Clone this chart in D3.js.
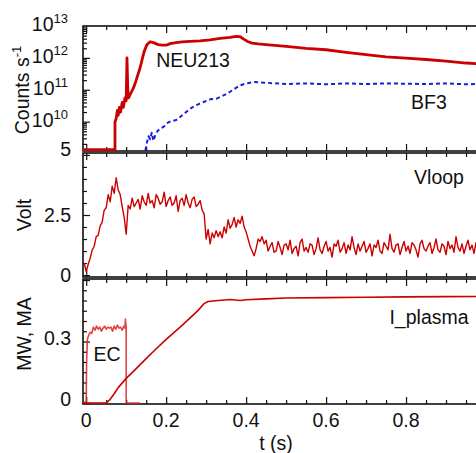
<!DOCTYPE html>
<html>
<head>
<meta charset="utf-8">
<script src="https://cdn.jsdelivr.net/npm/d3@7"></script>
<style>
  body { margin: 0; background: #fff; }
  text { font-family: "Liberation Sans", Arial, Helvetica, sans-serif; fill: #111; }
</style>
</head>
<body>
<div id="chart"></div>
<script>
// ---- data ----
const tNeu = [-0.008, 0.072, 0.072, 0.075, 0.078, 0.08, 0.083, 0.086, 0.09, 0.093, 0.097, 0.1, 0.102, 0.104, 0.106, 0.11,
  0.118, 0.125, 0.135, 0.145, 0.152, 0.16, 0.17, 0.18, 0.19, 0.2, 0.21, 0.225, 0.24, 0.26, 0.285, 0.31, 0.335, 0.36,
  0.375, 0.385, 0.395, 0.405, 0.415, 0.43, 0.45, 0.5, 0.55, 0.6, 0.65, 0.7, 0.75, 0.8, 0.85, 0.9, 0.95, 1.0];
const neu213 = [1.32e9, 1.32e9, 1.0e10, 1.26e10, 2.24e10, 1.58e10, 2.8e10, 2.0e10, 4.0e10, 2.8e10, 5.6e10, 4.5e10, 1.0e12, 1.0e11, 5.6e10, 7.1e10,
  1.12e11, 2.0e11, 5.0e11, 1.6e12, 2.6e12, 3.2e12, 2.95e12, 2.6e12, 2.5e12, 2.5e12, 2.8e12, 3.0e12, 3.2e12, 3.3e12, 3.4e12, 3.7e12, 4.1e12, 4.4e12,
  4.7e12, 4.6e12, 3.8e12, 3.2e12, 2.9e12, 2.75e12, 2.6e12, 2.3e12, 2.0e12, 1.8e12, 1.5e12, 1.26e12, 1.07e12, 9.8e11, 8.9e11, 7.9e11, 6.9e11, 6.3e11];

const tBf3 = [0.148, 0.152, 0.156, 0.16, 0.164, 0.168, 0.172, 0.178, 0.185, 0.195, 0.205, 0.215, 0.225, 0.235, 0.25, 0.265,
  0.28, 0.295, 0.31, 0.325, 0.34, 0.355, 0.37, 0.385, 0.4, 0.42, 0.45, 0.5, 0.55, 0.6, 0.65, 0.7, 0.75, 0.8, 0.85, 0.9, 0.95, 1.0];
const bf3 = [1.26e9, 2.24e9, 3.5e9, 2.8e9, 4.5e9, 2.5e9, 3.5e9, 5.0e9, 6.0e9, 7.1e9, 9.5e9, 1.05e10, 1.12e10, 1.4e10, 2.0e10, 2.8e10,
  3.5e10, 4.2e10, 5.0e10, 5.2e10, 6.3e10, 7.9e10, 1.05e11, 1.38e11, 1.58e11, 1.74e11, 1.66e11, 1.51e11, 1.58e11, 1.48e11, 1.58e11, 1.51e11, 1.58e11, 1.55e11, 1.51e11, 1.58e11, 1.48e11, 1.55e11];

// Vloop sampled every 5 ms from t = -5 ms
const vloopT0 = -0.005, vloopDt = 0.005;
const vloop = [
  // ramp up, -0.005 .. 0.11
  0.5, 0.15, 0.45, 0.7, 1.05, 1.2, 1.6, 1.65, 2.05, 2.2, 2.7, 2.8, 3.35, 3.05, 3.7, 3.4, 4.05, 3.55, 3.35, 2.85, 2.4, 1.7, 2.9, 2.75,
  // plateau, 0.115 .. 0.295
  3.2, 2.85, 3.0, 3.15, 2.75, 3.3, 3.05, 2.9, 3.4, 3.0, 3.1, 2.8, 3.35, 3.2, 2.95, 3.05, 3.45, 2.85, 3.1, 3.25,
  2.9, 3.0, 3.3, 2.65, 3.1, 3.2, 2.9, 3.35, 3.0, 2.8, 3.15, 3.25, 2.85, 2.95, 3.1, 2.7, 2.55,
  // drop and bump, 0.3 .. 0.455
  1.5, 1.9, 1.3, 1.75, 1.55, 1.85, 1.6, 1.8, 1.55, 2.0, 1.75, 2.3, 1.95, 2.1, 2.4, 2.0, 2.3, 2.15, 2.45, 2.0,
  1.8, 1.5, 1.2, 1.0, 0.8, 1.1, 1.5, 1.4, 1.6, 1.3, 1.45, 1.0,
  // steady, 0.46 ..
  1.2, 1.35, 0.95, 1.0, 1.4, 1.15, 0.85, 1.25, 1.3, 1.05, 1.45, 0.9, 1.1, 1.2, 0.8, 1.35, 1.5, 1.0, 1.15, 0.95,
  1.3, 1.25, 0.85, 1.1, 1.55, 1.05, 0.9, 1.2, 1.4, 1.0, 1.15, 0.75, 1.3, 1.2, 1.45, 0.95, 1.1, 1.35, 0.9, 1.25,
  1.05, 1.6, 1.15, 0.85, 1.3, 1.0, 1.2, 1.4, 0.95, 1.1, 1.3, 0.8, 1.25, 1.15, 1.45, 1.0, 0.9, 1.35, 1.2, 1.05,
  1.7, 1.1, 0.95, 1.25, 1.3, 0.85, 1.15, 1.4, 1.0, 1.2, 0.9, 1.35, 1.25, 1.05, 0.75, 1.3, 1.45, 1.1, 1.0, 1.2,
  1.35, 0.9, 1.15, 1.5, 1.05, 0.95, 1.3, 1.2, 0.85, 1.4, 1.1, 1.25, 0.95, 1.6, 1.15, 1.0, 1.3, 0.9, 1.2, 1.45,
  1.05, 1.25, 0.9, 1.35, 1.1, 1.2];

const tEc = [-0.008, 0, 0.001, 0.003, 0.006, 0.01, 0.014, 0.018, 0.022, 0.026, 0.03, 0.034, 0.038, 0.042, 0.046, 0.05,
  0.054, 0.058, 0.062, 0.066, 0.07, 0.074, 0.078, 0.082, 0.086, 0.09, 0.094, 0.097, 0.098, 0.1, 0.1, 0.135];
const ec = [0.005, 0.005, 0.2, 0.31, 0.33, 0.345, 0.34, 0.37, 0.355, 0.375, 0.36, 0.37, 0.35, 0.365, 0.375, 0.36,
  0.37, 0.365, 0.37, 0.35, 0.375, 0.36, 0.38, 0.365, 0.37, 0.355, 0.375, 0.365, 0.41, 0.37, 0.0, 0.0];

const tIp = [-0.008, 0.05, 0.06, 0.07, 0.08, 0.1, 0.12, 0.148, 0.17, 0.2, 0.235, 0.26, 0.28, 0.295, 0.305, 0.33, 0.36,
  0.385, 0.4, 0.45, 0.5, 0.6, 0.7, 0.8, 0.9, 1.0];
const iPlasma = [0, 0, 0.018, 0.045, 0.075, 0.12, 0.158, 0.213, 0.255, 0.31, 0.37, 0.415, 0.452, 0.485, 0.495, 0.5, 0.505,
  0.5, 0.504, 0.508, 0.512, 0.514, 0.516, 0.518, 0.519, 0.52];

const xTickLabels = [0, 0.2, 0.4, 0.6, 0.8];
const logTickLabels = [13, 12, 11, 10];
const voltTickLabels = [0, 2.5, 5];
const maTickLabels = [0, 0.3];

// ---- layout ----
const width = 476, height = 453;
const red = '#cc0000', blue = '#1d1de0';

const svg = d3.select('#chart').append('svg')
  .attr('width', width)
  .attr('height', height);

const x = d3.scaleLinear().domain([-0.008, 1.0]).range([83, 486]);

const panels = [
  { top: 26, bottom: 151 },
  { top: 153, bottom: 277 },
  { top: 279, bottom: 404 }
];

const yTop = d3.scaleLog().domain([1.2e9, 1e13]).range([panels[0].bottom, panels[0].top]);
const yMid = d3.scaleLinear().domain([-0.08, 5.08]).range([panels[1].bottom, panels[1].top]);
const yBot = d3.scaleLinear().domain([-0.005, 0.605]).range([panels[2].bottom, panels[2].top]);

const xMajor = d3.range(0, 1.01, 0.2);
const xMinor = d3.range(0, 1.01, 0.05).filter(v => Math.abs(v * 5 - Math.round(v * 5)) > 1e-6);

// clip paths
panels.forEach((p, i) => {
  svg.append('clipPath').attr('id', 'clip' + i)
    .append('rect')
    .attr('x', x.range()[0]).attr('y', p.top)
    .attr('width', x.range()[1] - x.range()[0]).attr('height', p.bottom - p.top);
});

function frame(p) {
  svg.append('rect')
    .attr('x', x.range()[0]).attr('y', p.top)
    .attr('width', x.range()[1] - x.range()[0]).attr('height', p.bottom - p.top)
    .attr('fill', 'none').attr('stroke', '#111').attr('stroke-width', 1.6);
}

function xTicks(p) {
  [[p.bottom, d3.axisBottom], [p.top, d3.axisTop]].forEach(([yy, ax]) => {
    svg.append('g').attr('transform', 'translate(0,' + yy + ')')
      .call(ax(x).tickValues(xMajor).tickSize(-7).tickFormat(''))
      .call(g => g.select('.domain').remove());
    svg.append('g').attr('transform', 'translate(0,' + yy + ')')
      .call(ax(x).tickValues(xMinor).tickSize(-4).tickFormat(''))
      .call(g => g.select('.domain').remove());
  });
  svg.selectAll('.tick line').attr('stroke', '#111').attr('stroke-width', 1.2);
}

function yTicks(scale, major, minor) {
  const l = x.range()[0];
  svg.append('g').attr('transform', 'translate(' + l + ',0)')
    .call(d3.axisLeft(scale).tickValues(major).tickSize(-7).tickFormat(''))
    .call(g => g.select('.domain').remove());
  svg.append('g').attr('transform', 'translate(' + l + ',0)')
    .call(d3.axisLeft(scale).tickValues(minor).tickSize(-4).tickFormat(''))
    .call(g => g.select('.domain').remove());
  svg.selectAll('.tick line').attr('stroke', '#111').attr('stroke-width', 1.2);
}

function drawLine(i, xs, ys, scale, color, w, dash, opacity) {
  const line = d3.line()
    .x((d, k) => x(xs[k]))
    .y(d => scale(d));
  svg.append('path')
    .attr('clip-path', 'url(#clip' + i + ')')
    .attr('d', line(ys))
    .attr('fill', 'none')
    .attr('stroke', color)
    .attr('stroke-width', w)
    .attr('stroke-dasharray', dash || null)
    .attr('stroke-opacity', opacity || 1)
    .attr('stroke-linejoin', 'round');
}

const fs = 19.5;

// ---- panel 1: neutron counts ----
frame(panels[0]);
xTicks(panels[0]);
const logMajor = d3.range(10, 13).map(e => Math.pow(10, e));
const logMinor = [];
[9, 10, 11, 12].forEach(e => d3.range(2, 10).forEach(k => {
  const v = k * Math.pow(10, e);
  if (v > yTop.domain()[0] && v < yTop.domain()[1]) logMinor.push(v);
}));
yTicks(yTop, logMajor, logMinor);

logTickLabels.forEach(e => {
  const t = svg.append('text')
    .attr('x', 68).attr('y', yTop(Math.pow(10, e)) + 5)
    .attr('text-anchor', 'end')
    .style('font-size', fs + 'px');
  t.append('tspan').text('10');
  t.append('tspan').attr('dy', -8).style('font-size', '13px').text(e);
});

drawLine(0, tBf3, bf3, yTop, blue, 2, '4,3');
drawLine(0, tNeu, neu213, yTop, red, 2.8);

svg.append('text').attr('x', 193).attr('y', 67).attr('text-anchor', 'middle')
  .style('font-size', fs + 'px').text('NEU213');
svg.append('text').attr('x', 429).attr('y', 109).attr('text-anchor', 'middle')
  .style('font-size', fs + 'px').text('BF3');

const yl1 = svg.append('text')
  .attr('transform', 'translate(29,90) rotate(-90)')
  .attr('text-anchor', 'middle')
  .style('font-size', fs + 'px');
yl1.append('tspan').text('Counts s');
yl1.append('tspan').attr('dy', -8).style('font-size', '13px').text('-1');

// ---- panel 2: loop voltage ----
frame(panels[1]);
xTicks(panels[1]);
yTicks(yMid, [0, 2.5, 5], d3.range(0.5, 5, 0.5).filter(v => v !== 2.5));

voltTickLabels.forEach(v => {
  svg.append('text')
    .attr('x', 71).attr('y', yMid(v) + (v === 5 ? -6 : 0))
    .attr('dy', '0.35em')
    .attr('text-anchor', 'end')
    .style('font-size', fs + 'px')
    .text(v);
});

const vloopT = vloop.map((d, k) => vloopT0 + k * vloopDt);
drawLine(1, vloopT, vloop, yMid, red, 1.4);

svg.append('text').attr('x', 439).attr('y', 184).attr('text-anchor', 'middle')
  .style('font-size', fs + 'px').text('Vloop');
svg.append('text')
  .attr('transform', 'translate(31,215) rotate(-90)')
  .attr('text-anchor', 'middle')
  .style('font-size', fs + 'px').text('Volt');

// ---- panel 3: EC power, plasma current ----
frame(panels[2]);
xTicks(panels[2]);
yTicks(yBot, [0, 0.3, 0.6], d3.range(0.05, 0.6, 0.05).filter(v => Math.abs(v - 0.3) > 1e-6));

maTickLabels.forEach(v => {
  svg.append('text')
    .attr('x', 71).attr('y', yBot(v) + (v === 0 ? -4 : -3))
    .attr('dy', '0.35em')
    .attr('text-anchor', 'end')
    .style('font-size', fs + 'px')
    .text(v);
});

drawLine(2, tEc, ec, yBot, '#dd2222', 1.6, null, 0.85);
drawLine(2, tIp, iPlasma, yBot, red, 1.6);

svg.append('text').attr('x', 429).attr('y', 324).attr('text-anchor', 'middle')
  .style('font-size', fs + 'px').text('I_plasma');
svg.append('text').attr('x', 107).attr('y', 361).attr('text-anchor', 'middle')
  .style('font-size', fs + 'px').text('EC');
svg.append('text')
  .attr('transform', 'translate(31,334) rotate(-90)')
  .attr('text-anchor', 'middle')
  .style('font-size', fs + 'px').text('MW, MA');

xTickLabels.forEach(v => {
  svg.append('text')
    .attr('x', x(v)).attr('y', 427)
    .attr('text-anchor', 'middle')
    .style('font-size', fs + 'px')
    .text(v);
});
svg.append('text').attr('x', 276).attr('y', 450).attr('text-anchor', 'middle')
  .style('font-size', fs + 'px').text('t (s)');
</script>
</body>
</html>
